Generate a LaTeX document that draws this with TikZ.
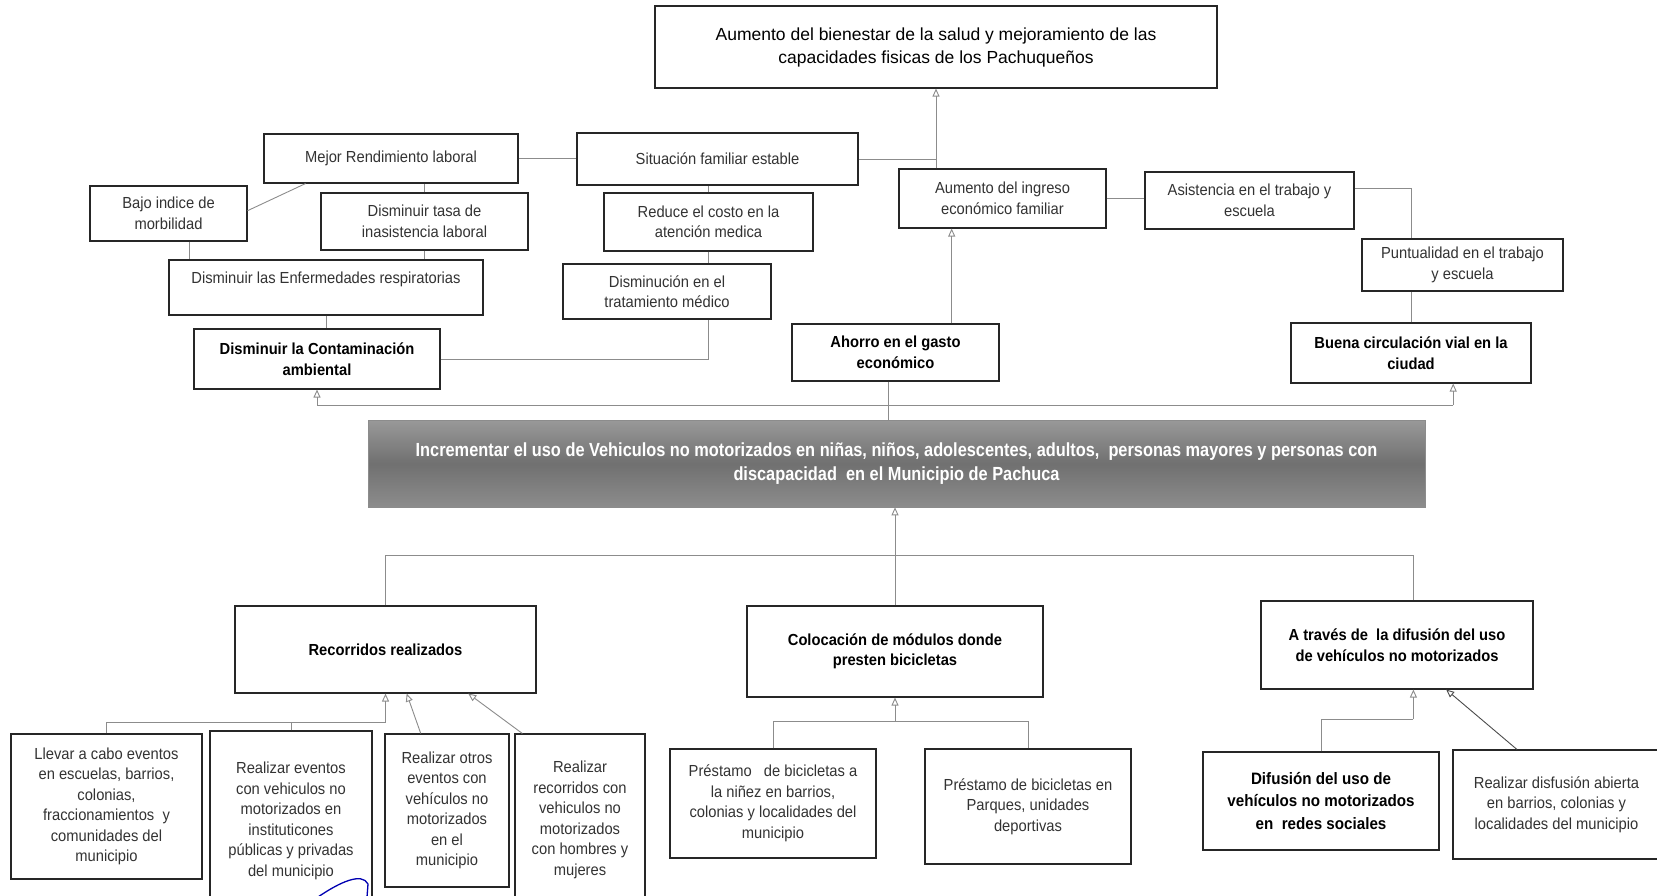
\documentclass[tikz,border=0pt]{standalone}
\usepackage{fontspec}
\setmainfont{Liberation Sans}[FakeStretch=0.92]
\newfontfamily\topfont{Liberation Sans}
\newfontfamily\bannerfont{Liberation Sans}[FakeStretch=0.86]
\usetikzlibrary{arrows.meta,calc}
\tikzset{
  box/.style={draw=black!85, line width=1.1pt, fill=white, align=center, inner sep=2pt,
    font=\fontsize{16}{20.5}\selectfont, text=black!80},
  boldbox/.style={box, font=\fontsize{16}{20.5}\selectfont\bfseries, text=black},
  banner/.style={top color=black!40, bottom color=black!45, middle color=black!56, draw=black!45,
    line width=0.6pt, align=center, text=white, font=\bannerfont\fontsize{19}{24}\selectfont\bfseries},
  conn/.style={draw=black!45, line width=0.9pt},
  arr/.style={conn, -{Triangle[open, length=8pt, width=7pt]}},
  darr/.style={draw=black!70, line width=0.9pt, -{Triangle[open, length=8pt, width=7pt]}},
}
\begin{document}
\begin{tikzpicture}[x=1pt,y=-1pt]
\useasboundingbox[fill=white] (0,0) rectangle (1657,895);

% ---------- top ----------
\node[box, minimum width=562pt, minimum height=82pt, font=\topfont\fontsize{17.5}{23}\selectfont, text=black] (top) at (936,47)
  {Aumento del bienestar de la salud y mejoramiento de las\\capacidades fisicas de los Pachuqueños};

\node[box, minimum width=254pt, minimum height=49pt] (mejor) at (391,158.5) {Mejor Rendimiento laboral};
\node[box, minimum width=281pt, minimum height=52pt] (situ) at (717.5,159) {Situación familiar estable};
\node[box, minimum width=157pt, minimum height=55pt] (bajo) at (168.5,213.5) {Bajo indice de\\morbilidad};
\node[box, minimum width=207pt, minimum height=57pt] (tasa) at (424.5,221.5) {Disminuir tasa de\\inasistencia laboral};
\node[box, minimum width=209pt, minimum height=58pt] (reduce) at (708.5,222) {Reduce el costo en la\\atención medica};
\node[box, minimum width=207pt, minimum height=59pt] (ingreso) at (1002.5,198.5) {Aumento del ingreso\\económico familiar};
\node[box, minimum width=209pt, minimum height=57pt] (asist) at (1249.5,200.5) {Asistencia en el trabajo y\\escuela};
\node[box, minimum width=201pt, minimum height=52pt] (puntual) at (1462.5,265) {Puntualidad en el trabajo\\y escuela};
\node[box, minimum width=314pt, minimum height=55pt] (enferm) at (326,287.5) {Disminuir las Enfermedades respiratorias\\\mbox{}};
\node[box, minimum width=208pt, minimum height=55pt] (tratam) at (667,291.5) {Disminución en el\\tratamiento médico};
\node[boldbox, minimum width=246pt, minimum height=60pt] (contam) at (317,359) {Disminuir la Contaminación\\ambiental};
\node[boldbox, minimum width=207pt, minimum height=57pt] (ahorro) at (895.5,352.5) {Ahorro en el gasto\\económico};
\node[boldbox, minimum width=240pt, minimum height=60pt] (buena) at (1411,353) {Buena circulación vial en la\\ciudad};

% ---------- banner ----------
\node[banner, minimum width=1057pt, minimum height=87pt] (banner) at (896.5,463.5)
  {Incrementar el uso de Vehiculos no motorizados en niñas, niños, adolescentes, adultos,\ \ personas mayores y personas con\\discapacidad\ \ en el Municipio de Pachuca};

% ---------- bottom ----------
\node[boldbox, minimum width=301pt, minimum height=87pt] (recorr) at (385.5,649.5) {Recorridos realizados};
\node[boldbox, minimum width=296pt, minimum height=91pt] (coloc) at (895,651.5) {Colocación de módulos donde\\presten bicicletas};
\node[boldbox, minimum width=272pt, minimum height=88pt] (atraves) at (1397,645) {A través de\ \ la difusión del uso\\de vehículos no motorizados};

\node[box, minimum width=191pt, minimum height=145pt] (llevar) at (106.5,806.5)
  {Llevar a cabo eventos\\en escuelas, barrios,\\colonias,\\fraccionamientos\ \ y\\comunidades del\\municipio};
\node[box, minimum width=162pt, minimum height=180pt] (realev) at (291,821)
  {Realizar eventos\\con vehiculos no\\motorizados en\\instituticones\\públicas y privadas\\del municipio};
\node[box, minimum width=124pt, minimum height=153pt] (realotros) at (447,810.5)
  {Realizar otros\\eventos con\\vehículos no\\motorizados\\en el\\municipio};
\node[box, minimum width=130pt, minimum height=172pt] (realrec) at (580,820)
  {Realizar\\recorridos con\\vehiculos no\\motorizados\\con hombres y\\mujeres};
\node[box, minimum width=206pt, minimum height=109pt] (prestnin) at (773,803.5)
  {Préstamo\ \ \ de bicicletas a\\la niñez en barrios,\\colonias y localidades del\\municipio};
\node[box, minimum width=206pt, minimum height=115pt] (prestpar) at (1028,806.5)
  {Préstamo de bicicletas en\\Parques, unidades\\deportivas};
\node[boldbox, minimum width=236pt, minimum height=98pt, font=\fontsize{16.5}{22.5}\selectfont\bfseries] (difred) at (1321,801)
  {Difusión del uso de\\vehículos no motorizados\\en\ \ redes sociales};
\node[box, minimum width=207pt, minimum height=109pt] (realdif) at (1556.5,804.5)
  {Realizar disfusión abierta\\en barrios, colonias y\\localidades del municipio};

% ---------- connectors: top part ----------
\draw[arr] (top.south |- ingreso.north) -- (top.south);
\draw[conn] (situ.east) -- (situ.east -| top.south);
\draw[conn] (mejor.east) -- (mejor.east -| situ.west);
\draw[conn] (tasa.north) -- (tasa.north |- mejor.south);
\draw[conn] ($(mejor.south west)!0.165!(mejor.south east)$) -- ($(bajo.north east)!0.45!(bajo.south east)$);
\draw[conn] ($(bajo.south west)!0.63!(bajo.south east)$) coordinate (b1) -- (b1 |- enferm.north);
\draw[conn] (tasa.south) -- (tasa.south |- enferm.north);
\draw[conn] (enferm.south) -- (enferm.south |- contam.north);
\draw[conn] (contam.east) -- (contam.east -| reduce.south) -- (reduce.south |- tratam.south);
\draw[conn] (reduce.south) -- (reduce.south |- tratam.north);
\draw[conn] (reduce.north) -- (reduce.north |- situ.south);
\draw[arr] ($(ahorro.north west)!0.77!(ahorro.north east)$) coordinate (a1) -- (a1 |- ingreso.south);
\draw[conn] (ingreso.east) -- (ingreso.east -| asist.west);
\draw[conn] ($(asist.north east)!0.3!(asist.south east)$) coordinate (s1) -- (s1 -| buena.north) -- (buena.north |- puntual.north);
\draw[conn] (buena.north) -- (buena.north |- puntual.south);

\coordinate (bus) at (888,405);
\coordinate (b2) at ($(buena.south west)!0.675!(buena.south east)$);
\draw[conn] (contam.south |- bus) -- (b2 |- bus);
\draw[arr] (contam.south |- bus) -- (contam.south);
\draw[arr] (b2 |- bus) -- (b2);
\draw[conn] ($(ahorro.south west)!0.467!(ahorro.south east)$) coordinate (a2) -- (a2 |- banner.north);

% ---------- connectors: bottom part ----------
\coordinate (bus2) at (893,555);
\coordinate (t1) at ($(atraves.north west)!0.56!(atraves.north east)$);
\draw[arr] (coloc.north |- bus2) -- (coloc.north |- banner.south);
\draw[conn] (recorr.north) -- (recorr.north |- bus2) -- (t1 |- bus2) -- (t1);
\draw[conn] (coloc.north) -- (coloc.north |- bus2);

\coordinate (bus3) at (386,722);
\draw[arr] (recorr.south |- bus3) -- (recorr.south);
\draw[conn] (llevar.north) -- (llevar.north |- bus3) -- (recorr.south |- bus3);
\draw[conn] (realev.north) -- (realev.north |- bus3);
\draw[arr] ($(realotros.north west)!0.29!(realotros.north east)$) -- ($(recorr.south west)!0.57!(recorr.south east)$);
\draw[arr] ($(realrec.north west)!0.06!(realrec.north east)$) -- ($(recorr.south west)!0.774!(recorr.south east)$);

\coordinate (bus4) at (893,721);
\draw[arr] (coloc.south |- bus4) -- (coloc.south);
\draw[conn] (prestnin.north) -- (prestnin.north |- bus4) -- (prestpar.north |- bus4) -- (prestpar.north);

\coordinate (bus5) at (1412,719);
\draw[arr] (t1 |- bus5) -- (t1 |- atraves.south);
\draw[conn] (difred.north) -- (difred.north |- bus5) -- (t1 |- bus5);
\draw[darr] ($(realdif.north west)!0.31!(realdif.north east)$) -- ($(atraves.south west)!0.68!(atraves.south east)$);

% ---------- ink mark ----------
\draw[blue!70!black, line width=1.3pt] (318,897) .. controls (340,882) and (362,872) .. (368,884) -- (367,897);
\end{tikzpicture}
\end{document}
